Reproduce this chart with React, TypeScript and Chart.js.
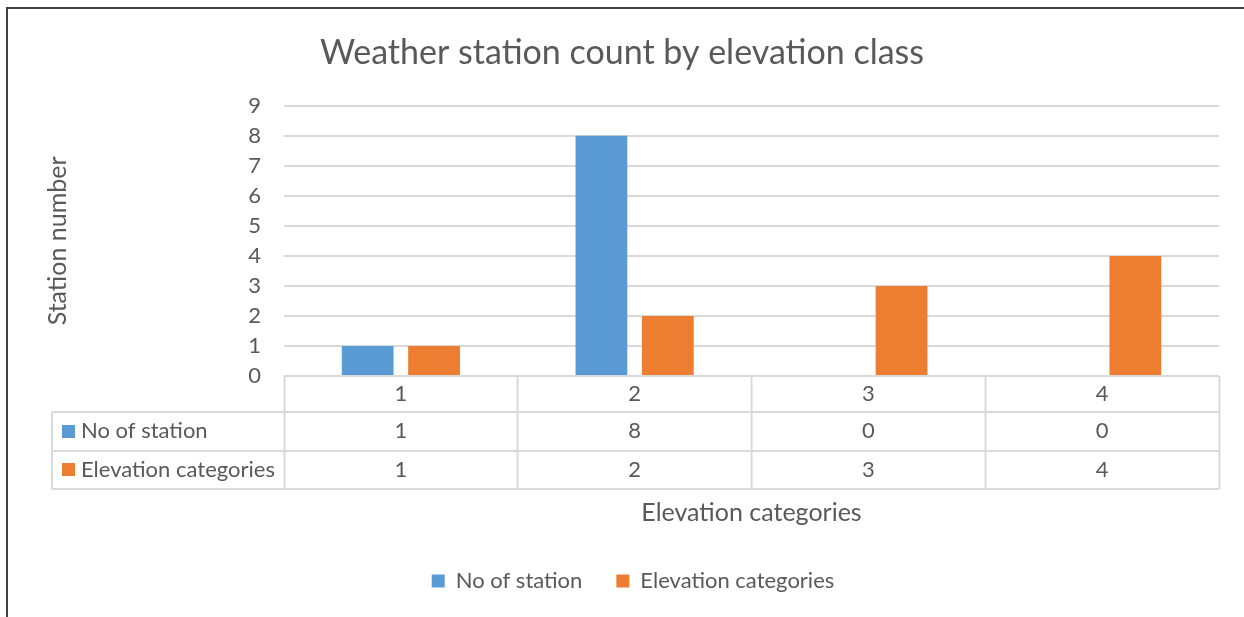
import React, { useEffect, useRef } from "react";
import { Chart, registerables } from "chart.js";

Chart.register(...registerables);

const categories = ["1", "2", "3", "4"];
const noOfStation = [1, 8, 0, 0];
const elevationCategories = [1, 2, 3, 4];
const seriesNames = ["No of station", "Elevation categories"];
const seriesColors = ["#5B9BD5", "#ED7D31"];
const yTicksMax = 9;

const FONT = "Lato";
const TEXT = "#595959";
const LINE = "#d9d9d9";

const tablePlugin = {
  id: "dataTable",
  afterLayout(chart: any) {
    if (chart.legend) {
      chart.legend.left += 11;
      chart.legend.right += 11;
    }
  },
  beforeDraw(chart: any) {
    const ctx = chart.ctx;
    ctx.save();
    ctx.fillStyle = "#ffffff";
    ctx.fillRect(0, 0, chart.width, chart.height);
    ctx.strokeStyle = "#404040";
    ctx.lineWidth = 2;
    ctx.beginPath();
    ctx.moveTo(7, chart.height + 5);
    ctx.lineTo(7, 8);
    ctx.lineTo(chart.width + 5, 8);
    ctx.stroke();
    ctx.restore();
  },
  afterDraw(chart: any) {
    const ctx = chart.ctx;
    const area = chart.chartArea;
    const x = chart.scales.x;
    const headerH = 36;
    const rowH = 38.5;
    const tableLeft = 52;
    const rows = [noOfStation, elevationCategories];
    ctx.save();
    ctx.strokeStyle = LINE;
    ctx.lineWidth = 2;
    ctx.beginPath();
    for (let r = 0; r <= rows.length; r++) {
      const y = Math.round(area.bottom + headerH + r * rowH);
      ctx.moveTo(tableLeft, y);
      ctx.lineTo(area.right, y);
    }
    const y0 = Math.round(area.bottom + headerH);
    const y1 = Math.round(area.bottom + headerH + rows.length * rowH);
    ctx.moveTo(tableLeft, y0);
    ctx.lineTo(tableLeft, y1);
    ctx.moveTo(area.left, area.bottom);
    ctx.lineTo(area.right, area.bottom);
    ctx.stroke();

    ctx.font = `22px ${FONT}`;
    ctx.textBaseline = "middle";
    rows.forEach((vals, r) => {
      const cy = area.bottom + headerH + r * rowH + rowH / 2;
      ctx.fillStyle = seriesColors[r];
      ctx.fillRect(62, Math.round(cy - 6.5), 13, 13);
      ctx.fillStyle = TEXT;
      ctx.textAlign = "left";
      ctx.fillText(seriesNames[r], 81, cy);
      ctx.textAlign = "center";
      vals.forEach((v, i) => {
        ctx.fillText(String(v), x.getPixelForValue(i), cy);
      });
    });
    ctx.restore();
  },
};

export default function App() {
  const ref = useRef<HTMLCanvasElement>(null);
  useEffect(() => {
    if (!ref.current) return;
    const chart = new Chart(ref.current, {
      type: "bar",
      data: {
        labels: categories,
        datasets: [
          {
            label: seriesNames[0],
            data: noOfStation,
            backgroundColor: seriesColors[0],
            categoryPercentage: 0.568,
            barPercentage: 0.78,
          },
          {
            label: seriesNames[1],
            data: elevationCategories,
            backgroundColor: seriesColors[1],
            categoryPercentage: 0.568,
            barPercentage: 0.78,
          },
        ],
      },
      plugins: [tablePlugin],
      options: {
        responsive: false,
        animation: false,
        layout: { padding: { top: 0, left: 0, right: 0, bottom: 15 } },
        plugins: {
          title: {
            display: true,
            text: "Weather station count by elevation class",
            color: TEXT,
            font: { family: FONT, size: 34, weight: "normal" },
            padding: { top: 33, bottom: 32 },
          },
          legend: {
            position: "bottom",
            labels: {
              color: TEXT,
              font: { family: FONT, size: 22 },
              boxWidth: 13,
              boxHeight: 13,
              padding: 34,
            },
          },
          tooltip: { enabled: false },
        },
        scales: {
          x: {
            grid: {
              offset: true,
              drawOnChartArea: false,
              drawTicks: true,
              tickLength: 113,
              tickColor: LINE,
              tickWidth: 2,
            },
            border: { display: false },
            ticks: {
              color: TEXT,
              font: { family: FONT, size: 22 },
              padding: -108,
            },
            title: {
              display: true,
              text: "Elevation categories",
              color: TEXT,
              font: { family: FONT, size: 25 },
              padding: { top: 0, bottom: 8 },
            },
            afterFit(scale: any) {
              scale.height = 160;
            },
          },
          y: {
            min: 0,
            max: yTicksMax,
            ticks: {
              stepSize: 1,
              color: TEXT,
              font: { family: FONT, size: 22 },
              padding: 23,
            },
            grid: { color: LINE, lineWidth: 2, drawTicks: false },
            border: { display: false },
            title: {
              display: true,
              text: "Station number",
              color: TEXT,
              font: { family: FONT, size: 25 },
              padding: { top: 43, bottom: 0 },
            },
            afterFit(scale: any) {
              scale.width = 284;
              scale.paddingTop = 0;
              scale.paddingBottom = 0;
            },
          },
          yRight: {
            position: "right",
            display: true,
            grid: { drawOnChartArea: false, drawTicks: false },
            border: { display: false },
            ticks: { display: false },
            afterFit(scale: any) {
              scale.width = 25;
              scale.paddingTop = 0;
              scale.paddingBottom = 0;
            },
          },
        },
      },
    });
    return () => chart.destroy();
  }, []);
  return (
    <div style={{ position: "fixed", left: 0, top: 0, width: 1244, height: 617 }}>
      <canvas ref={ref} width={1244} height={617} />
    </div>
  );
}
